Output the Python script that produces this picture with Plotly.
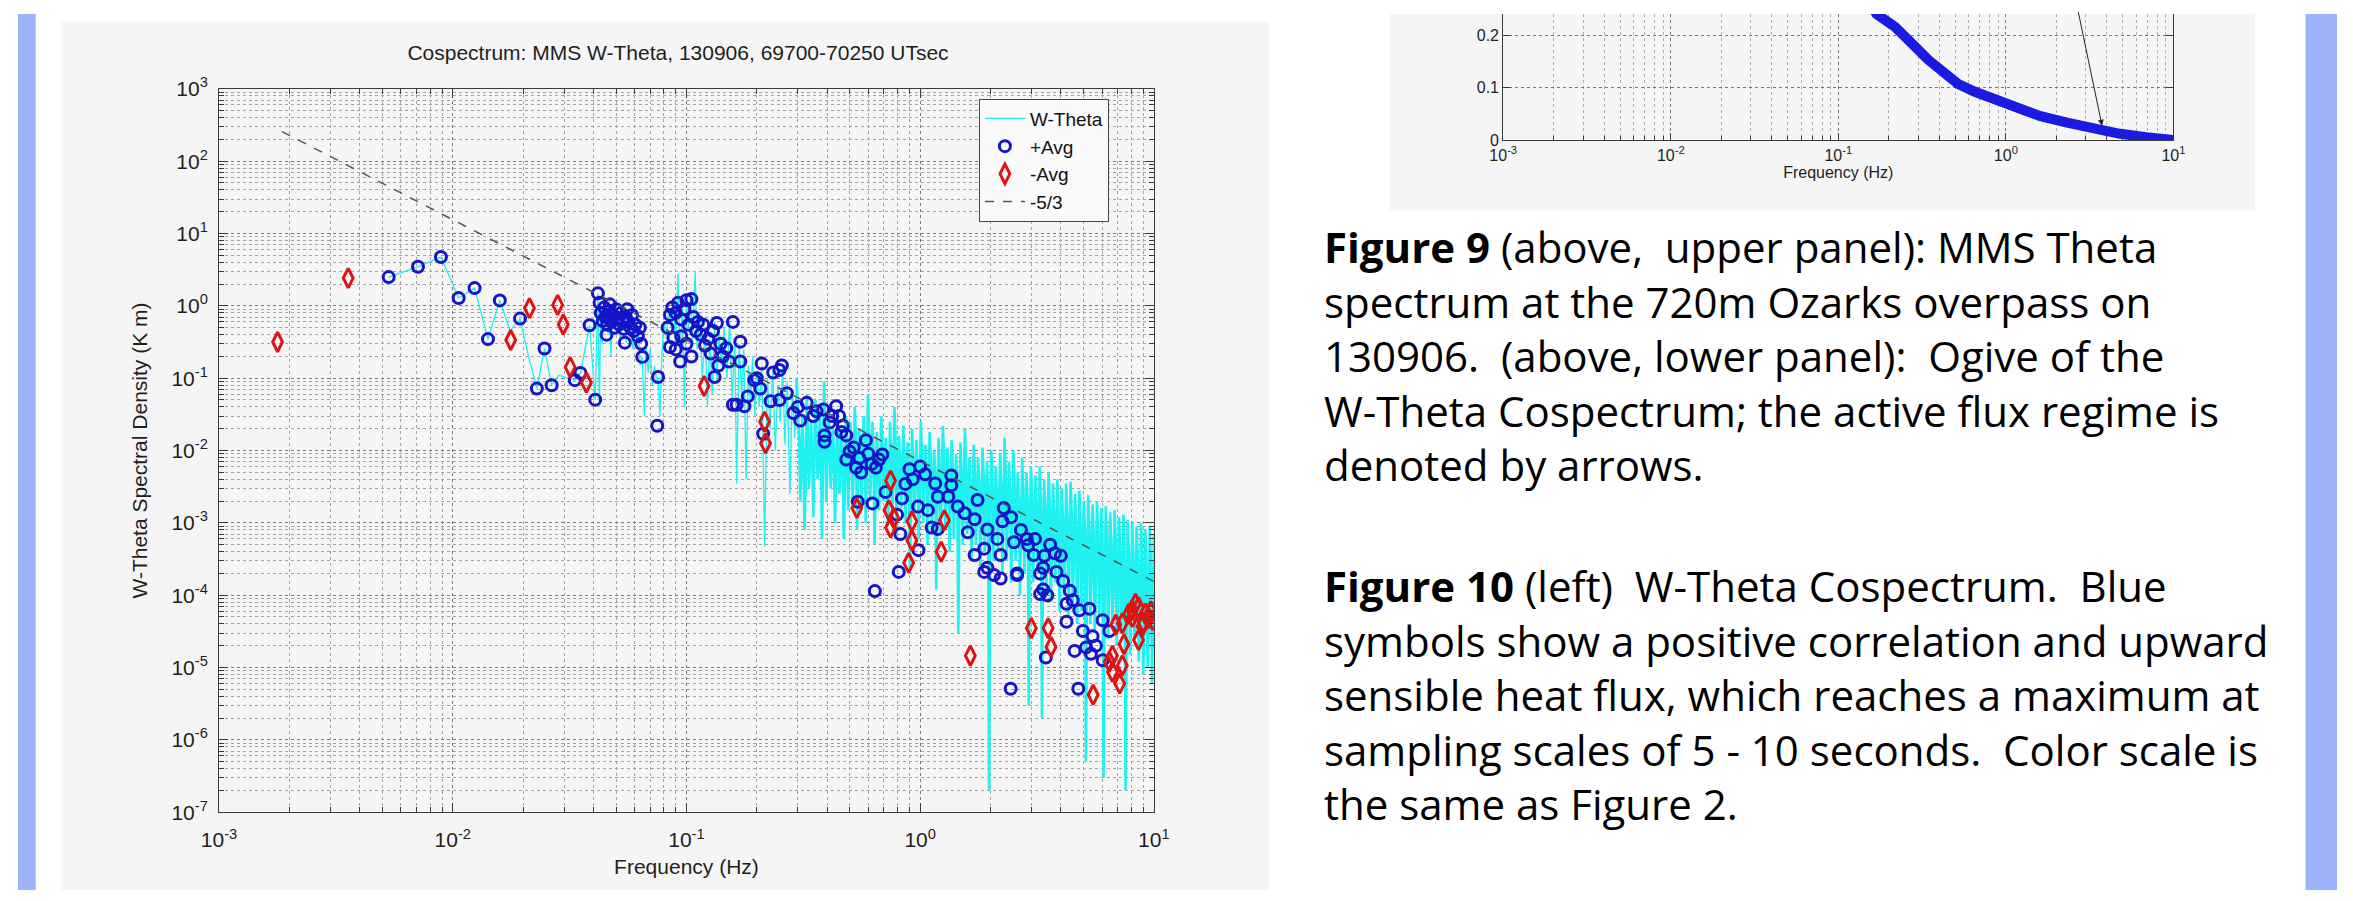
import math
import plotly.graph_objects as go

W, H = 2353, 901

# ---------------- data: W-Theta cospectrum (positive raw values) ----------------
WT_LO = [
    (0.00532, 2.5), (0.0071, 3.47), (0.0089, 4.73), (0.0106, 1.28), (0.0124, 1.76),
    (0.01415, 0.347), (0.0159, 1.19), (0.0176, 0.45), (0.0194, 0.667), (0.0211, 0.2),
    (0.0229, 0.0718), (0.0247, 0.258), (0.0265, 0.08), (0.0284, 0.11), (0.0333, 0.094),
    (0.0352, 0.118), (0.0368, 0.25), (0.0385, 0.54), (0.0407, 0.0505), (0.0418, 1.49),
    (0.0424, 0.04), (0.043, 1.1), (0.0436, 0.3), (0.0442, 0.9), (0.0448, 0.55),
    (0.0455, 1.0), (0.0462, 0.4), (0.0468, 0.85), (0.0475, 0.2), (0.0482, 0.75),
    (0.049, 0.5), (0.0498, 0.95), (0.0505, 0.45), (0.0513, 0.8), (0.052, 0.3),
    (0.0528, 0.7), (0.0536, 0.5), (0.0545, 0.85), (0.0553, 0.31), (0.0562, 0.6),
    (0.057, 0.4), (0.058, 0.75), (0.059, 0.25), (0.06, 0.55), (0.061, 0.35),
    (0.0622, 0.45), (0.0634, 0.15), (0.0647, 0.197), (0.066, 0.03), (0.0672, 0.3),
    (0.0685, 0.12), (0.07, 0.25), (0.0715, 0.08), (0.073, 0.15), (0.0745, 0.09),
    (0.0756, 0.104), (0.077, 0.03), (0.0785, 0.2), (0.08, 0.6), (0.082, 0.35),
    (0.084, 0.9), (0.086, 0.5), (0.088, 1.1), (0.09, 0.3), (0.092, 2.8),
    (0.094, 0.2), (0.096, 0.9), (0.098, 0.04), (0.1, 1.2), (0.102, 0.5),
    (0.104, 1.3), (0.106, 0.35), (0.109, 3.0), (0.111, 0.25), (0.114, 0.7),
    (0.117, 0.1), (0.12, 0.5), (0.123, 0.04), (0.126, 0.35), (0.129, 0.06),
    (0.132, 0.6), (0.135, 0.09), (0.138, 0.4), (0.141, 0.15), (0.145, 0.5),
    (0.149, 0.1), (0.153, 0.6), (0.157, 0.05), (0.161, 0.35), (0.164, 0.0035),
    (0.168, 0.3), (0.172, 0.06), (0.176, 0.25), (0.18, 0.004), (0.184, 0.15),
    (0.188, 0.05), (0.192, 0.2), (0.196, 0.03), (0.2, 0.12), (0.205, 0.04),
    (0.21, 0.15), (0.216, 0.00047), (0.222, 0.1), (0.228, 0.02), (0.234, 0.12),
    (0.24, 0.01), (0.246, 0.08), (0.252, 0.025), (0.258, 0.15), (0.264, 0.012),
    (0.27, 0.09), (0.277, 0.0025), (0.284, 0.07), (0.291, 0.015), (0.296, 0.1),
]

# dense high-frequency part: peaks / troughs
WT_HI = [
    (0.30, 4e-2), (0.307, 2e-3), (0.313, 3e-2), (0.32, 8e-4), (0.327, 6e-2),
    (0.334, 3e-3), (0.341, 2.5e-2), (0.349, 1.2e-3), (0.356, 5e-2), (0.364, 4e-3),
    (0.372, 3e-2), (0.38, 6e-4), (0.388, 9e-2), (0.397, 2e-3), (0.405, 4e-2),
    (0.414, 3e-3), (0.423, 2e-2), (0.432, 1e-3), (0.442, 3.5e-2), (0.451, 2.5e-3),
    (0.461, 2e-2), (0.471, 6e-4), (0.482, 3e-2), (0.492, 1.5e-3), (0.503, 2.5e-2),
    (0.514, 2e-3), (0.525, 4e-2), (0.537, 8e-4), (0.548, 2e-2), (0.56, 1.8e-3),
    (0.573, 3e-2), (0.585, 1e-3), (0.598, 6e-2), (0.611, 2e-3), (0.625, 2.5e-2),
    (0.638, 5e-4), (0.652, 1.8e-2), (0.667, 1.5e-3), (0.681, 3e-2), (0.696, 2e-3),
    (0.712, 1.5e-2), (0.727, 9e-4), (0.743, 2.5e-2), (0.76, 1.4e-3), (0.776, 4e-2),
    (0.793, 7e-4), (0.811, 1.6e-2), (0.829, 1.6e-3), (0.847, 2.2e-2), (0.865, 1e-3),
    (0.884, 1.3e-2), (0.904, 2e-4), (0.923, 2e-2), (0.944, 1.2e-3), (0.964, 1.4e-2),
    (0.985, 6e-4), (1.007, 2.5e-2), (1.029, 1e-3), (1.052, 1.2e-2), (1.075, 5e-4),
    (1.098, 1.8e-2), (1.122, 8e-4), (1.147, 1e-2), (1.172, 1.2e-4), (1.198, 1.5e-2),
    (1.224, 7e-4), (1.251, 2.2e-2), (1.278, 9e-4), (1.306, 1.1e-2), (1.335, 4e-4),
    (1.364, 1.4e-2), (1.394, 6e-4), (1.425, 9e-3), (1.456, 3e-5), (1.488, 1.3e-2),
    (1.521, 5e-4), (1.554, 2e-2), (1.588, 7e-4), (1.623, 8e-3), (1.659, 3e-4),
    (1.695, 1.2e-2), (1.732, 5e-4), (1.77, 8e-3), (1.809, 2.5e-4), (1.849, 1.1e-2),
    (1.889, 4e-4), (1.931, 7e-3), (1.973, 2e-7), (2.016, 1e-2), (2.061, 3e-4),
    (2.106, 6e-3), (2.152, 4e-4), (2.199, 9e-3), (2.248, 2e-4), (2.297, 1.5e-2),
    (2.347, 3e-4), (2.399, 7e-3), (2.451, 1.5e-4), (2.505, 1e-2), (2.56, 3e-4),
    (2.616, 5e-3), (2.674, 1e-4), (2.732, 8e-3), (2.792, 2e-4), (2.853, 5e-3),
    (2.916, 3e-6), (2.98, 6e-3), (3.045, 1.5e-4), (3.112, 4.5e-3), (3.18, 2.5e-4),
    (3.25, 6e-3), (3.321, 2e-6), (3.394, 4e-3), (3.468, 1.2e-4), (3.544, 5e-3),
    (3.622, 8e-5), (3.701, 3.5e-3), (3.782, 1.5e-4), (3.865, 4e-3), (3.95, 6e-5),
    (4.036, 3e-3), (4.125, 1e-4), (4.215, 3.5e-3), (4.308, 5e-5), (4.402, 3.7e-3),
    (4.499, 8e-5), (4.597, 2.5e-3), (4.698, 4e-5), (4.801, 2.8e-3), (4.906, 6e-5),
    (5.014, 2e-3), (5.123, 5e-7), (5.236, 2.4e-3), (5.35, 4e-5), (5.467, 1.8e-3),
    (5.587, 3e-5), (5.71, 2e-3), (5.835, 5e-5), (5.963, 1.6e-3), (6.093, 3e-7),
    (6.227, 1.7e-3), (6.363, 2.5e-5), (6.503, 1.4e-3), (6.645, 4e-5), (6.791, 1.5e-3),
    (6.94, 2e-5), (7.092, 1.2e-3), (7.247, 3e-5), (7.406, 1.3e-3), (7.568, 2e-7),
    (7.734, 1.1e-3), (7.903, 1.5e-5), (8.076, 1e-3), (8.253, 2.5e-5), (8.434, 9e-4),
    (8.619, 1.2e-5), (8.808, 1e-3), (9.001, 8e-6), (9.198, 8e-4), (9.4, 1e-5),
    (9.606, 9e-4), (9.816, 6e-6), (10.0, 7e-4),
]

# dense high-frequency part: in-between samples
WT_MID = [
    (0.3035, 1.5e-2), (0.310, 5e-3), (0.3165, 1e-2), (0.3235, 3e-3), (0.3305, 2e-2),
    (0.3375, 6e-3), (0.345, 1e-2), (0.3525, 8e-3), (0.36, 2e-2), (0.368, 6e-3),
    (0.376, 1.2e-2), (0.384, 5e-3), (0.3925, 2.5e-2), (0.401, 8e-3), (0.4095, 1.5e-2),
    (0.4185, 6e-3), (0.4275, 1e-2), (0.437, 4e-3), (0.4465, 1.4e-2), (0.456, 5e-3),
    (0.466, 1e-2), (0.4765, 3e-3), (0.487, 1.2e-2), (0.4975, 6e-3), (0.5085, 1e-2),
    (0.5195, 5e-3), (0.531, 1.5e-2), (0.5425, 4e-3), (0.554, 1e-2), (0.5665, 6e-3),
    (0.579, 1.4e-2), (0.5915, 4e-3), (0.6045, 2e-2), (0.618, 6e-3), (0.6315, 1e-2),
    (0.645, 3e-3), (0.6595, 8e-3), (0.674, 5e-3), (0.6885, 1.2e-2), (0.704, 5e-3),
    (0.7195, 7e-3), (0.735, 3e-3), (0.7515, 1e-2), (0.768, 4e-3), (0.7845, 1.5e-2),
    (0.802, 3e-3), (0.82, 7e-3), (0.838, 5e-3), (0.856, 9e-3), (0.8745, 3e-3),
    (0.894, 6e-3), (0.9135, 2e-3), (0.9335, 8e-3), (0.954, 4e-3), (0.9745, 6e-3),
    (0.996, 3e-3), (1.018, 1e-2), (1.0405, 4e-3), (1.0635, 6e-3), (1.0865, 2.5e-3),
    (1.11, 8e-3), (1.1345, 3e-3), (1.1595, 5e-3), (1.185, 2e-3), (1.211, 6e-3),
    (1.2375, 3e-3), (1.2645, 9e-3), (1.292, 3e-3), (1.3205, 5e-3), (1.3495, 2e-3),
    (1.379, 6e-3), (1.4095, 2.5e-3), (1.4405, 4e-3), (1.472, 1.5e-3), (1.5045, 5e-3),
    (1.5375, 2e-3), (1.571, 7e-3), (1.6055, 2.5e-3), (1.641, 3.5e-3), (1.677, 1.5e-3),
    (1.7135, 5e-3), (1.751, 2e-3), (1.7895, 3.5e-3), (1.829, 1.2e-3), (1.869, 4.5e-3),
    (1.91, 1.8e-3), (1.952, 3e-3), (1.9945, 1.5e-3), (2.0385, 4e-3), (2.083, 1.2e-3),
    (2.129, 2.5e-3), (2.1755, 1.5e-3), (2.2235, 3.5e-3), (2.2725, 1e-3), (2.322, 5e-3),
    (2.373, 1.2e-3), (2.425, 3e-3), (2.478, 8e-4), (2.5325, 4e-3), (2.588, 1e-3),
    (2.645, 2e-3), (2.703, 6e-4), (2.762, 3e-3), (2.8225, 9e-4), (2.8845, 2e-3),
    (2.948, 7e-4), (3.0125, 2.5e-3), (3.0785, 7e-4), (3.146, 1.8e-3), (3.215, 8e-4),
    (3.2855, 2.2e-3), (3.3575, 5e-4), (3.431, 1.6e-3), (3.506, 5e-4), (3.583, 2e-3),
    (3.6615, 4e-4), (3.7415, 1.4e-3), (3.8235, 5e-4), (3.9075, 1.5e-3), (3.993, 3e-4),
    (4.0805, 1.2e-3), (4.17, 4e-4), (4.2615, 1.3e-3), (4.355, 2.5e-4), (4.4505, 1.4e-3),
    (4.548, 3e-4), (4.6475, 1e-3), (4.7495, 2e-4), (4.8535, 1.1e-3), (4.96, 2.5e-4),
    (5.0685, 8e-4), (5.1795, 2e-4), (5.2935, 9e-4), (5.4085, 1.6e-4), (5.527, 7e-4),
    (5.6485, 1.5e-4), (5.7725, 8e-4), (5.899, 1.8e-4), (6.028, 6e-4), (6.16, 1.2e-4),
    (6.295, 7e-4), (6.433, 1e-4), (6.574, 5.5e-4), (6.718, 1.2e-4), (6.8655, 6e-4),
    (7.016, 8e-5), (7.1695, 4.5e-4), (7.3265, 9e-5), (7.487, 5e-4), (7.651, 6e-5),
    (7.8185, 4e-4), (7.9895, 7e-5), (8.1645, 4e-4), (8.3435, 5e-5), (8.5265, 3.5e-4),
    (8.7135, 4e-5), (8.9045, 3.5e-4), (9.0995, 3e-5), (9.299, 3e-4), (9.503, 3.5e-5),
    (9.711, 3e-4), (9.908, 2.5e-5),
]

# ---------------- +Avg (blue circles) ----------------
POS_AVG = [
    (0.00532, 2.5), (0.0071, 3.47), (0.0089, 4.73), (0.0106, 1.28), (0.0124, 1.76),
    (0.01415, 0.347), (0.0159, 1.19), (0.0194, 0.667), (0.0247, 0.258), (0.0229, 0.0718),
    (0.0265, 0.08), (0.0352, 0.118), (0.0333, 0.094), (0.0407, 0.0505), (0.0385, 0.54),
    (0.0418, 1.49), (0.0425, 1.1), (0.043, 0.8), (0.0438, 0.62), (0.0445, 0.95),
    (0.045, 0.7), (0.0458, 0.55), (0.0465, 0.85), (0.047, 1.05), (0.0478, 0.6),
    (0.0485, 0.75), (0.0492, 0.5), (0.05, 0.9), (0.0508, 0.68), (0.0515, 0.55),
    (0.0525, 0.8), (0.0533, 0.62), (0.054, 0.48), (0.055, 0.7), (0.0558, 0.9),
    (0.0565, 0.6), (0.0575, 0.5), (0.0585, 0.75), (0.0595, 0.45), (0.0605, 0.55),
    (0.062, 0.38), (0.0632, 0.5), (0.064, 0.3), (0.0455, 0.4), (0.0545, 0.31),
    (0.0647, 0.197), (0.0756, 0.104), (0.075, 0.022),
    (0.083, 0.5), (0.085, 0.75), (0.087, 0.95), (0.09, 0.8), (0.092, 1.1),
    (0.095, 0.65), (0.098, 0.9), (0.1, 1.2), (0.102, 0.55), (0.105, 1.24),
    (0.107, 0.7), (0.11, 0.45), (0.085, 0.27), (0.09, 0.25), (0.095, 0.38),
    (0.1, 0.3), (0.105, 0.2), (0.112, 0.6), (0.115, 0.4), (0.118, 0.55),
    (0.12, 0.28), (0.124, 0.35), (0.127, 0.22), (0.13, 0.45), (0.135, 0.58),
    (0.14, 0.3), (0.143, 0.2), (0.148, 0.26), (0.152, 0.17), (0.132, 0.104),
    (0.137, 0.15), (0.088, 0.36), (0.094, 0.17),
    (0.158, 0.6), (0.17, 0.32), (0.17, 0.17), (0.21, 0.16), (0.256, 0.15),
    (0.2, 0.1), (0.164, 0.043), (0.235, 0.12), (0.25, 0.13),
    (0.158, 0.043), (0.183, 0.056), (0.195, 0.094), (0.177, 0.041), (0.207, 0.072),
    (0.213, 0.0171), (0.229, 0.048), (0.269, 0.062), (0.287, 0.033), (0.327, 0.0456),
    (0.349, 0.03), (0.385, 0.037), (0.41, 0.0245), (0.437, 0.041), (0.467, 0.022),
    (0.39, 0.0162), (0.39, 0.0132), (0.483, 0.0162), (0.307, 0.026), (0.25, 0.05),
    (0.3, 0.04), (0.36, 0.035), (0.42, 0.03), (0.45, 0.03), (0.46, 0.018),
    (0.499, 0.0097), (0.586, 0.0139), (0.55, 0.0079), (0.667, 0.0075), (0.532, 0.0058),
    (0.559, 0.00496), (0.646, 0.0058), (0.689, 0.0088), (0.483, 0.0075), (0.52, 0.011),
    (0.6, 0.009), (0.62, 0.0065),
    (0.711, 0.00267), (0.864, 0.00346), (0.836, 0.00218), (0.541, 0.00196), (0.625, 0.00186),
    (0.797, 0.0013), (0.823, 0.0007), (0.984, 0.00042), (0.81, 0.00021), (0.64, 0.000114),
    (0.9, 0.0055), (0.93, 0.004), (1.0, 0.006),
    (1.05, 0.0047), (1.16, 0.0035), (1.36, 0.0045), (1.36, 0.0033), (1.19, 0.0023),
    (1.32, 0.0023), (0.98, 0.00168), (1.08, 0.0015), (1.12, 0.00086), (1.19, 0.00082),
    (1.45, 0.00168), (1.55, 0.00136), (1.6, 0.00074), (1.76, 0.00207), (1.71, 0.00112),
    (1.94, 0.00081), (2.28, 0.0016), (2.25, 0.00105), (2.14, 0.0006),
    (1.71, 0.00036), (1.88, 0.00044), (1.94, 0.00024), (2.21, 0.00036), (2.52, 0.00054),
    (2.86, 0.0006), (2.6, 0.0002), (3.06, 0.00036), (3.77, 0.00038), (3.36, 0.00024),
    (3.83, 0.00021), (2.45, 0.0012), (2.9, 0.00049), (3.4, 0.00035), (4.0, 0.00035),
    (3.5, 0.0001), (2.7, 0.0008), (3.1, 0.0006), (3.6, 0.0005),
    (1.88, 0.00021), (2.07, 0.00019), (2.21, 0.00017), (2.6, 0.00019), (3.26, 0.0002),
    (4.09, 0.000157), (3.26, 0.000104), (3.36, 0.00012), (4.37, 0.000115), (4.5, 8.5e-5),
    (4.23, 7.6e-5), (4.8, 6.2e-5), (5.3, 6.5e-5), (4.23, 4.3e-5), (4.97, 3.2e-5),
    (5.47, 2.7e-5), (6.04, 4.5e-5), (6.45, 3.2e-5), (4.58, 1.7e-5), (5.13, 1.9e-5),
    (5.38, 1.55e-5), (6.04, 1.26e-5), (5.65, 2e-5), (3.45, 1.38e-5), (2.44, 5.1e-6),
    (4.75, 5.1e-6),
]

# ---------------- -Avg (red diamonds) ----------------
NEG_AVG = [
    (0.00178, 0.317), (0.00357, 2.42), (0.0177, 0.337), (0.0213, 0.93), (0.0281, 1.03),
    (0.0297, 0.553), (0.0318, 0.142), (0.0373, 0.087), (0.119, 0.078), (0.216, 0.025),
    (0.218, 0.0126), (0.747, 0.00383), (0.536, 0.0016), (0.735, 0.0015), (0.771, 0.00117),
    (0.747, 0.00086), (0.922, 0.00105), (0.922, 0.00057), (0.893, 0.00028), (1.23, 0.0004),
    (1.27, 0.00109), (1.64, 1.46e-5), (2.99, 3.5e-5), (3.53, 3.5e-5), (3.63, 1.93e-5),
    (5.5, 4.2e-6), (8.34, 7.6e-5), (7.33, 4.1e-5), (8.1, 5e-5), (9.2, 5.6e-5),
    (8.9, 3.7e-5), (6.87, 3.9e-5), (7.45, 2.1e-5), (8.6, 2.4e-5), (9.5, 4.8e-5),
    (8.07, 6.2e-5), (6.65, 1.46e-5), (7.33, 1.07e-5), (6.65, 8.7e-6), (7.14, 6e-6),
    (6.45, 1.2e-5), (7.8, 5.5e-5), (8.6, 6.8e-5), (9.7, 6e-5), (9.9, 4.5e-5),
    (9.0, 4.2e-5),
]

# -5/3 reference line end points
SLOPE_F = [0.00186, 10.0]
SLOPE_V = [257.0, 1.55e-4]

# ---------------- Ogive (upper right panel, partially visible) ----------------
OGIVE_F = [0.15, 0.169, 0.218, 0.249, 0.286, 0.343, 0.43, 0.516, 0.648, 0.85,
           1.12, 1.61, 2.32, 3.34, 4.8, 6.9, 9.94]
OGIVE_V = [0.27, 0.2407, 0.216, 0.2, 0.179, 0.154, 0.13, 0.108, 0.093, 0.078,
           0.062, 0.046, 0.034, 0.022, 0.0125, 0.0062, 0.001]
ARROW_F, ARROW_V = 3.75, 0.028

# tick labels
LOG_X_TICKS = [1e-3, 1e-2, 1e-1, 1e0, 1e1]
LOG_X_TEXT = ["10<sup>-3</sup>", "10<sup>-2</sup>", "10<sup>-1</sup>", "10<sup>0</sup>", "10<sup>1</sup>"]
LOG_Y_TICKS = [1e-7, 1e-6, 1e-5, 1e-4, 1e-3, 1e-2, 1e-1, 1e0, 1e1, 1e2, 1e3]
LOG_Y_TEXT = ["10<sup>-7</sup>", "10<sup>-6</sup>", "10<sup>-5</sup>", "10<sup>-4</sup>",
              "10<sup>-3</sup>", "10<sup>-2</sup>", "10<sup>-1</sup>", "10<sup>0</sup>",
              "10<sup>1</sup>", "10<sup>2</sup>", "10<sup>3</sup>"]
OG_Y_TICKS = [0, 0.1, 0.2]
OG_Y_TEXT = ["0", "0.1", "0.2"]

CAPTION_9 = ("<b>Figure 9</b> (above,  upper panel): MMS Theta<br>"
             "spectrum at the 720m Ozarks overpass on<br>"
             "130906.  (above, lower panel):  Ogive of the<br>"
             "W-Theta Cospectrum; the active flux regime is<br>"
             "denoted by arrows.")
CAPTION_10 = ("<b>Figure 10</b> (left)  W-Theta Cospectrum.  Blue<br>"
              "symbols show a positive correlation and upward<br>"
              "sensible heat flux, which reaches a maximum at<br>"
              "sampling scales of 5 - 10 seconds.  Color scale is<br>"
              "the same as Figure 2.")

# ---------------- helpers (pixel -> paper) ----------------
def px(x):
    return x / W

def py(y):
    return 1 - y / H

CHART_FONT = "Liberation Sans, Arial, sans-serif"
CAPTION_FONT = "Open Sans, Noto Sans, sans-serif"
AX = "#3a3a3a"
PANEL = "#f5f5f5"
CYAN = "#1ff0f0"

wt_hi = sorted([WT_LO[-1]] + WT_HI + WT_MID)

fig = go.Figure()
fig.add_trace(go.Scatter(x=[p[0] for p in WT_LO], y=[p[1] for p in WT_LO], mode="lines",
                         name="W-Theta", legendgroup="wt", line=dict(color=CYAN, width=1.3),
                         xaxis="x", yaxis="y"))
fig.add_trace(go.Scatter(x=[p[0] for p in wt_hi], y=[p[1] for p in wt_hi], mode="lines",
                         name="W-Theta", legendgroup="wt", showlegend=False,
                         line=dict(color=CYAN, width=2.6), xaxis="x", yaxis="y"))
fig.add_trace(go.Scatter(x=[p[0] for p in POS_AVG], y=[p[1] for p in POS_AVG], mode="markers",
                         name="+Avg",
                         marker=dict(symbol="circle-open", size=11, color="#1414c8",
                                     line=dict(width=3, color="#1414c8")),
                         xaxis="x", yaxis="y"))
fig.add_trace(go.Scatter(x=[p[0] for p in NEG_AVG], y=[p[1] for p in NEG_AVG], mode="markers",
                         name="-Avg",
                         marker=dict(symbol="diamond-tall-open", size=14, color="#e01212",
                                     line=dict(width=3, color="#e01212")),
                         xaxis="x", yaxis="y"))
fig.add_trace(go.Scatter(x=SLOPE_F, y=SLOPE_V, mode="lines", name="-5/3",
                         line=dict(color="#555555", width=1.5, dash="dash"),
                         xaxis="x", yaxis="y"))
fig.add_trace(go.Scatter(x=OGIVE_F, y=OGIVE_V, mode="lines", showlegend=False,
                         line=dict(color="#1a1ae0", width=10), xaxis="x2", yaxis="y2"))

grid_major = dict(showgrid=True, gridcolor="#7a7a7a", griddash="dot", gridwidth=1)
minor_log = dict(dtick="D1", ticks="inside", ticklen=5, tickcolor=AX,
                 showgrid=True, gridcolor="#a4a4a4", griddash="dot", gridwidth=1)

fig.update_layout(
    width=W, height=H,
    margin=dict(l=0, r=0, t=0, b=0),
    paper_bgcolor="white", plot_bgcolor=PANEL,
    showlegend=True,
    title=dict(text="Cospectrum: MMS W-Theta, 130906, 69700-70250 UTsec",
               x=px(678), y=py(53), xanchor="center", yanchor="middle",
               font=dict(family=CHART_FONT, size=21, color="#1e1e1e")),
    xaxis=dict(type="log", range=[-3, 1], domain=[px(204), px(1152.5)], anchor="y",
               tickmode="array", tickvals=LOG_X_TICKS, ticktext=LOG_X_TEXT,
               showline=True, linecolor=AX, linewidth=1, mirror="ticks",
               ticks="inside", ticklen=9, tickcolor=AX, zeroline=False,
               ticklabelstandoff=9,
               tickfont=dict(family=CHART_FONT, size=21, color="#1e1e1e"),
               minor=minor_log, **grid_major,
               title=dict(text="Frequency (Hz)", standoff=8,
                          font=dict(family=CHART_FONT, size=21, color="#1e1e1e"))),
    yaxis=dict(type="log", range=[-7, 3], domain=[py(821), py(77)], anchor="x",
               tickmode="array", tickvals=LOG_Y_TICKS, ticktext=LOG_Y_TEXT,
               showline=True, linecolor=AX, linewidth=1, mirror="ticks",
               ticks="inside", ticklen=9, tickcolor=AX, zeroline=False,
               ticklabelstandoff=6,
               tickfont=dict(family=CHART_FONT, size=21, color="#1e1e1e"),
               minor=minor_log, **grid_major,
               title=dict(text="W-Theta Spectral Density (K m)", standoff=18,
                          font=dict(family=CHART_FONT, size=21, color="#1e1e1e"))),
    xaxis2=dict(type="log", range=[-3, 1], domain=[px(1507), px(2187)], anchor="y2",
                tickmode="array", tickvals=LOG_X_TICKS, ticktext=LOG_X_TEXT,
                showline=True, linecolor=AX, linewidth=1, mirror=False,
                ticks="inside", ticklen=7, tickcolor=AX, zeroline=False,
                tickfont=dict(family=CHART_FONT, size=16, color="#1e1e1e"),
                minor=dict(dtick="D1", ticks="inside", ticklen=4, tickcolor=AX,
                           showgrid=True, gridcolor="#b0b0b0", griddash="dot", gridwidth=1),
                **grid_major,
                title=dict(text="Frequency (Hz)", standoff=2,
                           font=dict(family=CHART_FONT, size=16, color="#1e1e1e"))),
    yaxis2=dict(range=[0, 0.2407], domain=[py(130), 1.0], anchor="x2",
                tickmode="array", tickvals=OG_Y_TICKS, ticktext=OG_Y_TEXT,
                showline=True, linecolor=AX, linewidth=1, mirror="ticks",
                ticks="inside", ticklen=7, tickcolor=AX, zeroline=False,
                tickfont=dict(family=CHART_FONT, size=16, color="#1e1e1e"),
                **grid_major),
    legend=dict(x=px(975), y=py(87), xanchor="left", yanchor="top",
                bgcolor="#fafafa", bordercolor="#444444", borderwidth=1,
                font=dict(family=CHART_FONT, size=19, color="#111111"),
                itemwidth=40, tracegroupgap=0),
    shapes=[
        dict(type="rect", xref="paper", yref="paper", x0=0, x1=px(18), y0=0, y1=1,
             fillcolor="#9db4fd", line=dict(width=0), layer="below"),
        dict(type="rect", xref="paper", yref="paper", x0=px(2321), x1=1, y0=0, y1=1,
             fillcolor="#9db4fd", line=dict(width=0), layer="below"),
        dict(type="rect", xref="paper", yref="paper", x0=px(44), x1=px(1269), y0=0, y1=py(8),
             fillcolor=PANEL, line=dict(width=0), layer="below"),
        dict(type="rect", xref="paper", yref="paper", x0=px(1392), x1=px(2270), y0=py(202), y1=1,
             fillcolor=PANEL, line=dict(width=0), layer="below"),
    ],
    annotations=[
        dict(x=math.log10(ARROW_F), y=ARROW_V, xref="x2", yref="y2", text="",
             showarrow=True, ax=-24, ay=-115, arrowhead=2, arrowsize=1.2, arrowwidth=1,
             arrowcolor="#222222", standoff=0),
        dict(x=px(1323), y=py(351), xref="paper", yref="paper", xanchor="left", yanchor="middle",
             align="left", showarrow=False, text=CAPTION_9,
             font=dict(family=CAPTION_FONT, size=42, color="#000000")),
        dict(x=px(1323), y=py(700), xref="paper", yref="paper", xanchor="left", yanchor="middle",
             align="left", showarrow=False, text=CAPTION_10,
             font=dict(family=CAPTION_FONT, size=42, color="#000000")),
    ],
)

fig.write_html("out.html")
